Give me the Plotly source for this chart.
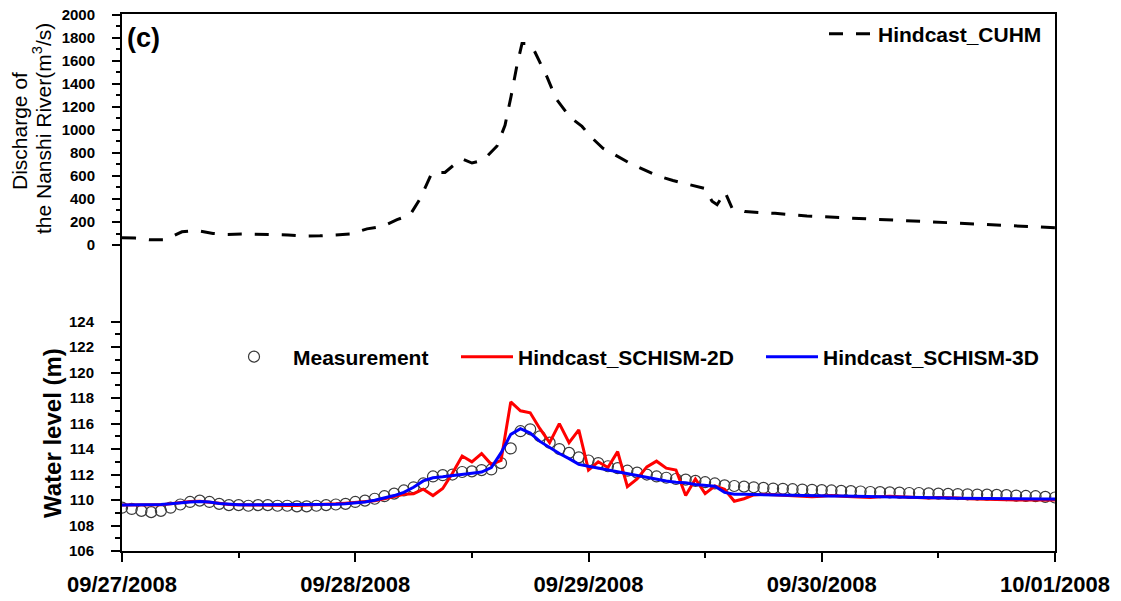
import pandas as pd
import plotly.graph_objects as go

START = pd.Timestamp("2008-09-27 00:00")

# Hindcast_CUHM discharge of the Nanshi River (m3/s); hours after 09/27/2008 00:00
cuhm_hours = [0.0, 1.34, 2.88, 4.42, 6.17, 7.72, 9.36, 10.8, 12.45, 13.99, 15.54, 17.08,
              18.83, 20.37, 22.12, 23.46, 25.21, 26.75, 28.3, 29.63, 30.66, 31.9, 33.23,
              34.57, 35.09, 36.01, 36.84, 37.56, 38.59, 39.41, 40.03, 40.64, 41.16, 41.78,
              42.29, 43.01, 43.73, 44.66, 46.1, 47.33, 48.36, 49.49, 50.93, 52.27, 53.81,
              55.15, 56.69, 58.24, 59.99, 60.71, 61.23, 62.05, 62.77, 64.11, 67.19, 70.48,
              74.91, 80.05, 85.2, 90.34, 96.0]
cuhm_discharge = [62, 60, 45, 45, 115, 125, 100, 92, 95, 95, 90, 87,
                  78, 80, 92, 95, 140, 160, 220, 260, 400, 630, 630,
                  725, 745, 712, 730, 770, 860, 1040, 1290, 1560, 1750, 1750,
                  1710, 1580, 1460, 1270, 1110, 1030, 930, 840, 770, 710, 650,
                  600, 560, 530, 490, 380, 350, 460, 320, 290, 275, 252,
                  235, 210, 190, 175, 150]

# Hourly water level (m), 09/27/2008 00:00 to 10/01/2008 00:00
wl_hours = list(range(97))
measurement = [109.4, 109.3, 109.15, 109.05, 109.15, 109.4, 109.65, 109.85, 109.95, 109.85,
               109.7, 109.6, 109.6, 109.55, 109.6, 109.6, 109.55, 109.55, 109.5, 109.5,
               109.55, 109.6, 109.65, 109.7, 109.85, 109.95, 110.1, 110.3, 110.5, 110.75,
               111.0, 111.3, 111.85, 111.95, 112.0, 112.2, 112.25, 112.35, 112.4, 112.9,
               114.05, 115.4, 115.55, 115.0, 114.5, 114.0, 113.7, 113.35, 113.1, 112.9,
               112.65, 112.5, 112.3, 112.15, 112.0, 111.85, 111.75, 111.65, 111.6, 111.5,
               111.4, 111.3, 111.15, 111.1, 111.05, 111.0, 110.95, 110.9, 110.88, 110.85,
               110.82, 110.8, 110.78, 110.75, 110.72, 110.7, 110.67, 110.63, 110.62, 110.6,
               110.58, 110.55, 110.55, 110.52, 110.5, 110.48, 110.47, 110.45, 110.43, 110.42,
               110.4, 110.38, 110.35, 110.32, 110.3, 110.25, 110.2]
schism_2d = [109.6, 109.6, 109.6, 109.6, 109.62, 109.7, 109.8, 109.88, 109.9, 109.85,
             109.75, 109.65, 109.6, 109.6, 109.6, 109.58, 109.58, 109.58, 109.58, 109.6,
             109.62, 109.65, 109.7, 109.75, 109.8, 109.88, 109.95, 110.1, 110.25, 110.45,
             110.5, 110.85, 110.35, 110.9, 112.1, 113.45, 113.0, 113.65, 112.8, 113.1,
             117.7, 117.0, 116.85, 115.6, 114.5, 116.0, 114.5, 115.5, 112.35, 113.0,
             112.55, 113.8, 111.05, 111.65, 112.6, 113.05, 112.5, 112.35, 110.35, 111.65,
             110.5, 111.1, 110.85, 109.9, 110.1, 110.4, 110.45, 110.4, 110.35, 110.3,
             110.25, 110.25, 110.3, 110.35, 110.3, 110.25, 110.2, 110.2, 110.25, 110.3,
             110.25, 110.2, 110.15, 110.15, 110.2, 110.2, 110.15, 110.1, 110.1, 110.1,
             110.05, 110.02, 110.0, 110.0, 110.02, 110.0, 110.0]
schism_3d = [109.6, 109.6, 109.6, 109.62, 109.65, 109.7, 109.8, 109.85, 109.88, 109.85,
             109.72, 109.65, 109.63, 109.62, 109.62, 109.62, 109.62, 109.62, 109.62, 109.62,
             109.63, 109.65, 109.67, 109.7, 109.75, 109.85, 109.98, 110.15, 110.35, 110.6,
             111.0, 111.5, 111.75, 111.82, 111.9, 112.0, 112.1, 112.2, 112.55, 113.7,
             115.15, 115.6, 115.25, 114.6, 114.1, 113.65, 113.25, 112.8, 112.65, 112.5,
             112.4, 112.25, 112.1, 111.92, 111.75, 111.6, 111.5, 111.4, 111.35, 111.22,
             111.15, 111.08, 110.6, 110.45, 110.45, 110.43, 110.42, 110.4, 110.38, 110.37,
             110.35, 110.34, 110.33, 110.32, 110.31, 110.3, 110.29, 110.28, 110.27, 110.25,
             110.24, 110.22, 110.2, 110.19, 110.17, 110.15, 110.13, 110.12, 110.1, 110.1,
             110.1, 110.09, 110.09, 110.09, 110.08, 110.08, 110.08]

day_ticks = ["2008-09-27", "2008-09-28", "2008-09-29", "2008-09-30", "2008-10-01"]
day_labels = ["09/27/2008", "09/28/2008", "09/29/2008", "09/30/2008", "10/01/2008"]
half_day_ticks = ["2008-09-27 12:00", "2008-09-28 12:00", "2008-09-29 12:00", "2008-09-30 12:00"]
wl_ticks = list(range(106, 125, 2))
wl_minor = list(range(107, 124, 2))
q_ticks = list(range(0, 2001, 200))
q_minor = list(range(100, 2000, 200))

FONT = "Liberation Sans, Arial, sans-serif"
W, H = 1121, 601
L, R, T, B = 122, 66, 14, 50
PW, PH = W - L - R, H - T - B


def px_x(px):
    """Pixel column -> paper fraction of the plot area."""
    return (px - L) / PW


def px_y(py):
    """Pixel row -> paper fraction of the plot area."""
    return 1 - (py - T) / PH


def to_time(hours):
    return [(START + pd.Timedelta(hours=h)).round("s") for h in hours]


fig = go.Figure()

fig.add_trace(go.Scatter(
    x=to_time(wl_hours), y=measurement, name="Measurement", mode="markers",
    marker=dict(symbol="circle-open", size=11, color="#3a3a3a", line=dict(width=1.2)),
    legend="legend",
))
fig.add_trace(go.Scatter(
    x=to_time(wl_hours), y=schism_2d, name="Hindcast_SCHISM-2D", mode="lines",
    line=dict(color="#ff0000", width=3), legend="legend2",
))
fig.add_trace(go.Scatter(
    x=to_time(wl_hours), y=schism_3d, name="Hindcast_SCHISM-3D", mode="lines",
    line=dict(color="#0000ff", width=3), legend="legend3",
))
fig.add_trace(go.Scatter(
    x=to_time(cuhm_hours), y=cuhm_discharge, name="Hindcast_CUHM", mode="lines",
    line=dict(color="black", width=3, dash="14px,13px"), yaxis="y2", legend="legend4",
))

legend_font = dict(family=FONT, size=21, color="black", weight="bold")


def legend_at(text_px, py, itemwidth=30):
    """Legend whose label text starts at pixel column text_px."""
    return dict(x=px_x(text_px - itemwidth - 10), y=px_y(py), xanchor="left",
                yanchor="middle", bgcolor="rgba(0,0,0,0)", font=legend_font,
                itemwidth=itemwidth)


axis_font = dict(family=FONT, size=15, color="black", weight="bold")
title_font = dict(family=FONT, size=21, color="black")

fig.update_layout(
    width=W, height=H,
    margin=dict(l=L, r=R, t=T, b=B, autoexpand=False),
    paper_bgcolor="white", plot_bgcolor="white",
    font=dict(family=FONT, color="black"),
    showlegend=True,
    legend=legend_at(293, 357, 68),
    legend2=legend_at(518, 357, 52),
    legend3=legend_at(823, 357, 52),
    legend4=legend_at(878, 34, 44),
    xaxis=dict(
        type="date", range=[day_ticks[0], day_ticks[-1]],
        tickmode="array", tickvals=day_ticks, ticktext=day_labels,
        tickfont=dict(family=FONT, size=22, color="black", weight="bold"),
        ticks="outside", ticklen=9, tickwidth=2, tickcolor="black",
        ticklabelstandoff=4,
        minor=dict(tickvals=half_day_ticks, ticks="outside", ticklen=5, tickwidth=2,
                   tickcolor="black", showgrid=False),
        showline=True, linewidth=2, linecolor="black", mirror=True,
        showgrid=False, zeroline=False,
    ),
    yaxis=dict(
        range=[106, 148.14],
        tickmode="array", tickvals=wl_ticks,
        tickfont=axis_font,
        ticks="outside", ticklen=9, tickwidth=2, tickcolor="black",
        ticklabelstandoff=14,
        minor=dict(tickvals=wl_minor, ticks="outside", ticklen=5, tickwidth=2,
                   tickcolor="black", showgrid=False),
        showline=True, linewidth=2, linecolor="black", mirror=True,
        showgrid=False, zeroline=False,
    ),
    yaxis2=dict(
        overlaying="y", side="left", anchor="x",
        range=[-2657, 2006],
        tickmode="array", tickvals=q_ticks,
        tickfont=axis_font,
        ticks="outside", ticklen=9, tickwidth=2, tickcolor="black",
        ticklabelstandoff=14,
        minor=dict(tickvals=q_minor, ticks="outside", ticklen=5, tickwidth=2,
                   tickcolor="black", showgrid=False),
        showline=False, showgrid=False, zeroline=False,
    ),
    annotations=[
        dict(text="(c)", x=px_x(143), y=px_y(38), xref="paper", yref="paper",
             xanchor="center", yanchor="middle", showarrow=False,
             font=dict(family=FONT, size=27, color="black", weight="bold")),
        dict(text="Water level (m)", x=px_x(52), y=px_y(433), xref="paper", yref="paper",
             xanchor="center", yanchor="middle", showarrow=False, textangle=-90,
             font=dict(family=FONT, size=24, color="black", weight="bold")),
        dict(text="Discharge of", x=px_x(20), y=px_y(131), xref="paper", yref="paper",
             xanchor="center", yanchor="middle", showarrow=False, textangle=-90,
             font=title_font),
        dict(text="the Nanshi River(m<sup>3</sup>/s)", x=px_x(42), y=px_y(129),
             xref="paper", yref="paper",
             xanchor="center", yanchor="middle", showarrow=False, textangle=-90,
             font=title_font),
    ],
)

fig.write_html("out.html")
